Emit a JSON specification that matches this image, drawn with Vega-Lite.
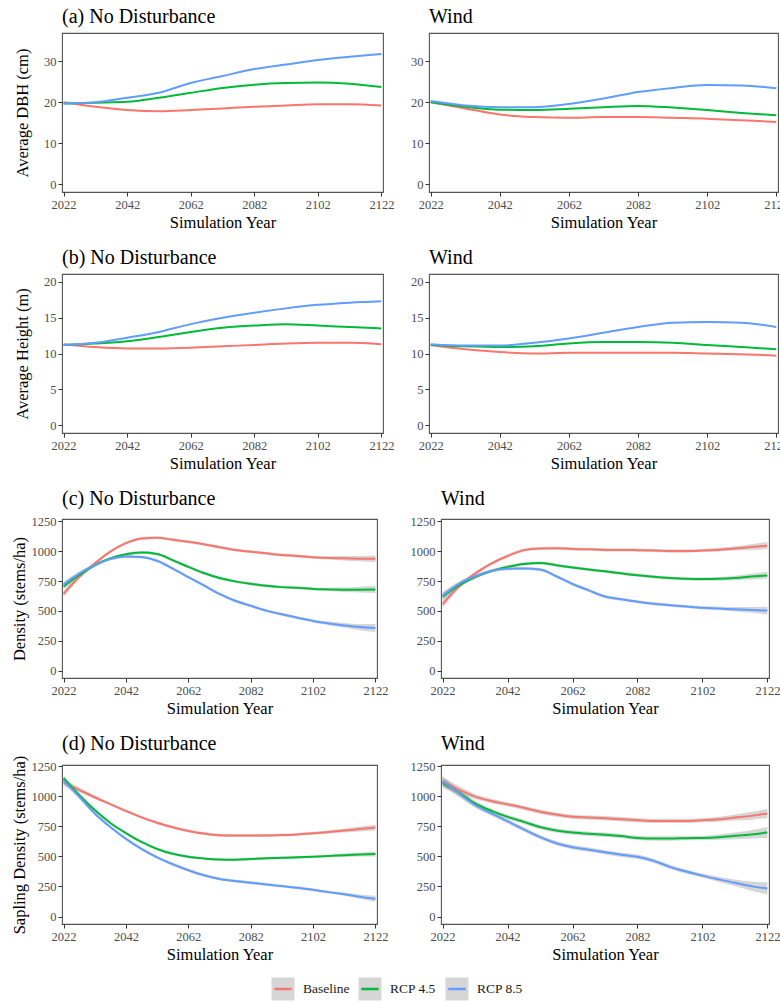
{
"$schema": "https://vega.github.io/schema/vega-lite/v6.json",
"padding": {"left": 10, "top": 6, "right": 0, "bottom": 0},
"background": "white",
"spacing": 13,
"datasets": {
"main": [
{"p":"a0","s":"Baseline","x":2022,"y":20.0},{"p":"a0","s":"Baseline","x":2032,"y":18.9},{"p":"a0","s":"Baseline","x":2042,"y":18.1},{"p":"a0","s":"Baseline","x":2052,"y":17.8},{"p":"a0","s":"Baseline","x":2062,"y":18.1},{"p":"a0","s":"Baseline","x":2072,"y":18.5},{"p":"a0","s":"Baseline","x":2082,"y":18.9},{"p":"a0","s":"Baseline","x":2092,"y":19.2},{"p":"a0","s":"Baseline","x":2102,"y":19.5},{"p":"a0","s":"Baseline","x":2112,"y":19.5},{"p":"a0","s":"Baseline","x":2122,"y":19.2},
{"p":"a0","s":"RCP 4.5","x":2022,"y":19.7},{"p":"a0","s":"RCP 4.5","x":2032,"y":19.9},{"p":"a0","s":"RCP 4.5","x":2042,"y":20.1},{"p":"a0","s":"RCP 4.5","x":2052,"y":21.1},{"p":"a0","s":"RCP 4.5","x":2062,"y":22.3},{"p":"a0","s":"RCP 4.5","x":2072,"y":23.5},{"p":"a0","s":"RCP 4.5","x":2082,"y":24.3},{"p":"a0","s":"RCP 4.5","x":2092,"y":24.7},{"p":"a0","s":"RCP 4.5","x":2102,"y":24.8},{"p":"a0","s":"RCP 4.5","x":2112,"y":24.5},{"p":"a0","s":"RCP 4.5","x":2122,"y":23.7},
{"p":"a0","s":"RCP 8.5","x":2022,"y":19.7},{"p":"a0","s":"RCP 8.5","x":2032,"y":20.0},{"p":"a0","s":"RCP 8.5","x":2042,"y":21.1},{"p":"a0","s":"RCP 8.5","x":2052,"y":22.3},{"p":"a0","s":"RCP 8.5","x":2062,"y":24.7},{"p":"a0","s":"RCP 8.5","x":2072,"y":26.4},{"p":"a0","s":"RCP 8.5","x":2082,"y":28.1},{"p":"a0","s":"RCP 8.5","x":2092,"y":29.2},{"p":"a0","s":"RCP 8.5","x":2102,"y":30.3},{"p":"a0","s":"RCP 8.5","x":2112,"y":31.1},{"p":"a0","s":"RCP 8.5","x":2122,"y":31.8},
{"p":"a1","s":"Baseline","x":2022,"y":20.0},{"p":"a1","s":"Baseline","x":2032,"y":18.5},{"p":"a1","s":"Baseline","x":2042,"y":17.0},{"p":"a1","s":"Baseline","x":2052,"y":16.4},{"p":"a1","s":"Baseline","x":2062,"y":16.2},{"p":"a1","s":"Baseline","x":2072,"y":16.4},{"p":"a1","s":"Baseline","x":2082,"y":16.4},{"p":"a1","s":"Baseline","x":2092,"y":16.2},{"p":"a1","s":"Baseline","x":2102,"y":16.0},{"p":"a1","s":"Baseline","x":2112,"y":15.6},{"p":"a1","s":"Baseline","x":2122,"y":15.2},
{"p":"a1","s":"RCP 4.5","x":2022,"y":20.0},{"p":"a1","s":"RCP 4.5","x":2032,"y":18.9},{"p":"a1","s":"RCP 4.5","x":2042,"y":18.2},{"p":"a1","s":"RCP 4.5","x":2052,"y":18.1},{"p":"a1","s":"RCP 4.5","x":2062,"y":18.4},{"p":"a1","s":"RCP 4.5","x":2072,"y":18.8},{"p":"a1","s":"RCP 4.5","x":2082,"y":19.1},{"p":"a1","s":"RCP 4.5","x":2092,"y":18.7},{"p":"a1","s":"RCP 4.5","x":2102,"y":18.1},{"p":"a1","s":"RCP 4.5","x":2112,"y":17.4},{"p":"a1","s":"RCP 4.5","x":2122,"y":16.8},
{"p":"a1","s":"RCP 8.5","x":2022,"y":20.3},{"p":"a1","s":"RCP 8.5","x":2032,"y":19.2},{"p":"a1","s":"RCP 8.5","x":2042,"y":18.8},{"p":"a1","s":"RCP 8.5","x":2052,"y":18.8},{"p":"a1","s":"RCP 8.5","x":2062,"y":19.6},{"p":"a1","s":"RCP 8.5","x":2072,"y":20.9},{"p":"a1","s":"RCP 8.5","x":2082,"y":22.5},{"p":"a1","s":"RCP 8.5","x":2092,"y":23.5},{"p":"a1","s":"RCP 8.5","x":2102,"y":24.2},{"p":"a1","s":"RCP 8.5","x":2112,"y":24.1},{"p":"a1","s":"RCP 8.5","x":2122,"y":23.4},
{"p":"b0","s":"Baseline","x":2022,"y":11.3},{"p":"b0","s":"Baseline","x":2032,"y":10.9},{"p":"b0","s":"Baseline","x":2042,"y":10.7},{"p":"b0","s":"Baseline","x":2052,"y":10.7},{"p":"b0","s":"Baseline","x":2062,"y":10.8},{"p":"b0","s":"Baseline","x":2072,"y":11.0},{"p":"b0","s":"Baseline","x":2082,"y":11.2},{"p":"b0","s":"Baseline","x":2092,"y":11.4},{"p":"b0","s":"Baseline","x":2102,"y":11.5},{"p":"b0","s":"Baseline","x":2112,"y":11.5},{"p":"b0","s":"Baseline","x":2122,"y":11.3},
{"p":"b0","s":"RCP 4.5","x":2022,"y":11.2},{"p":"b0","s":"RCP 4.5","x":2032,"y":11.4},{"p":"b0","s":"RCP 4.5","x":2042,"y":11.7},{"p":"b0","s":"RCP 4.5","x":2052,"y":12.3},{"p":"b0","s":"RCP 4.5","x":2062,"y":13.0},{"p":"b0","s":"RCP 4.5","x":2072,"y":13.6},{"p":"b0","s":"RCP 4.5","x":2082,"y":13.9},{"p":"b0","s":"RCP 4.5","x":2092,"y":14.1},{"p":"b0","s":"RCP 4.5","x":2102,"y":13.9},{"p":"b0","s":"RCP 4.5","x":2112,"y":13.7},{"p":"b0","s":"RCP 4.5","x":2122,"y":13.5},
{"p":"b0","s":"RCP 8.5","x":2022,"y":11.2},{"p":"b0","s":"RCP 8.5","x":2032,"y":11.5},{"p":"b0","s":"RCP 8.5","x":2042,"y":12.2},{"p":"b0","s":"RCP 8.5","x":2052,"y":13.0},{"p":"b0","s":"RCP 8.5","x":2062,"y":14.1},{"p":"b0","s":"RCP 8.5","x":2072,"y":15.0},{"p":"b0","s":"RCP 8.5","x":2082,"y":15.7},{"p":"b0","s":"RCP 8.5","x":2092,"y":16.3},{"p":"b0","s":"RCP 8.5","x":2102,"y":16.8},{"p":"b0","s":"RCP 8.5","x":2112,"y":17.1},{"p":"b0","s":"RCP 8.5","x":2122,"y":17.3},
{"p":"b1","s":"Baseline","x":2022,"y":11.2},{"p":"b1","s":"Baseline","x":2032,"y":10.6},{"p":"b1","s":"Baseline","x":2042,"y":10.2},{"p":"b1","s":"Baseline","x":2052,"y":10.0},{"p":"b1","s":"Baseline","x":2062,"y":10.1},{"p":"b1","s":"Baseline","x":2072,"y":10.1},{"p":"b1","s":"Baseline","x":2082,"y":10.1},{"p":"b1","s":"Baseline","x":2092,"y":10.1},{"p":"b1","s":"Baseline","x":2102,"y":10.0},{"p":"b1","s":"Baseline","x":2112,"y":9.9},{"p":"b1","s":"Baseline","x":2122,"y":9.7},
{"p":"b1","s":"RCP 4.5","x":2022,"y":11.2},{"p":"b1","s":"RCP 4.5","x":2032,"y":11.0},{"p":"b1","s":"RCP 4.5","x":2042,"y":10.9},{"p":"b1","s":"RCP 4.5","x":2052,"y":11.0},{"p":"b1","s":"RCP 4.5","x":2062,"y":11.4},{"p":"b1","s":"RCP 4.5","x":2072,"y":11.6},{"p":"b1","s":"RCP 4.5","x":2082,"y":11.6},{"p":"b1","s":"RCP 4.5","x":2092,"y":11.5},{"p":"b1","s":"RCP 4.5","x":2102,"y":11.2},{"p":"b1","s":"RCP 4.5","x":2112,"y":10.9},{"p":"b1","s":"RCP 4.5","x":2122,"y":10.6},
{"p":"b1","s":"RCP 8.5","x":2022,"y":11.3},{"p":"b1","s":"RCP 8.5","x":2032,"y":11.1},{"p":"b1","s":"RCP 8.5","x":2042,"y":11.1},{"p":"b1","s":"RCP 8.5","x":2052,"y":11.5},{"p":"b1","s":"RCP 8.5","x":2062,"y":12.1},{"p":"b1","s":"RCP 8.5","x":2072,"y":12.9},{"p":"b1","s":"RCP 8.5","x":2082,"y":13.7},{"p":"b1","s":"RCP 8.5","x":2092,"y":14.3},{"p":"b1","s":"RCP 8.5","x":2102,"y":14.4},{"p":"b1","s":"RCP 8.5","x":2112,"y":14.3},{"p":"b1","s":"RCP 8.5","x":2122,"y":13.7},
{"p":"c0","s":"Baseline","x":2022,"y":642,"lo":617,"hi":667},{"p":"c0","s":"Baseline","x":2027,"y":783,"lo":765,"hi":801},{"p":"c0","s":"Baseline","x":2032,"y":896,"lo":882,"hi":910},{"p":"c0","s":"Baseline","x":2037,"y":995,"lo":983,"hi":1007},{"p":"c0","s":"Baseline","x":2042,"y":1066,"lo":1054,"hi":1078},{"p":"c0","s":"Baseline","x":2047,"y":1105,"lo":1093,"hi":1117},{"p":"c0","s":"Baseline","x":2052,"y":1112,"lo":1100,"hi":1124},{"p":"c0","s":"Baseline","x":2057,"y":1095,"lo":1083,"hi":1107},{"p":"c0","s":"Baseline","x":2062,"y":1078,"lo":1066,"hi":1090},{"p":"c0","s":"Baseline","x":2067,"y":1058,"lo":1046,"hi":1070},{"p":"c0","s":"Baseline","x":2072,"y":1032,"lo":1020,"hi":1044},{"p":"c0","s":"Baseline","x":2077,"y":1010,"lo":998,"hi":1022},{"p":"c0","s":"Baseline","x":2082,"y":995,"lo":983,"hi":1007},{"p":"c0","s":"Baseline","x":2087,"y":981,"lo":969,"hi":993},{"p":"c0","s":"Baseline","x":2092,"y":967,"lo":955,"hi":979},{"p":"c0","s":"Baseline","x":2097,"y":959,"lo":947,"hi":971},{"p":"c0","s":"Baseline","x":2102,"y":948,"lo":936,"hi":960},{"p":"c0","s":"Baseline","x":2107,"y":943,"lo":929,"hi":957},{"p":"c0","s":"Baseline","x":2112,"y":940,"lo":922,"hi":958},{"p":"c0","s":"Baseline","x":2117,"y":937,"lo":915,"hi":959},{"p":"c0","s":"Baseline","x":2122,"y":935,"lo":907,"hi":963},
{"p":"c0","s":"RCP 4.5","x":2022,"y":704,"lo":679,"hi":729},{"p":"c0","s":"RCP 4.5","x":2027,"y":798,"lo":780,"hi":816},{"p":"c0","s":"RCP 4.5","x":2032,"y":882,"lo":868,"hi":896},{"p":"c0","s":"RCP 4.5","x":2037,"y":939,"lo":927,"hi":951},{"p":"c0","s":"RCP 4.5","x":2042,"y":973,"lo":961,"hi":985},{"p":"c0","s":"RCP 4.5","x":2047,"y":988,"lo":976,"hi":1000},{"p":"c0","s":"RCP 4.5","x":2052,"y":976,"lo":964,"hi":988},{"p":"c0","s":"RCP 4.5","x":2057,"y":925,"lo":913,"hi":937},{"p":"c0","s":"RCP 4.5","x":2062,"y":868,"lo":856,"hi":880},{"p":"c0","s":"RCP 4.5","x":2067,"y":817,"lo":805,"hi":829},{"p":"c0","s":"RCP 4.5","x":2072,"y":775,"lo":763,"hi":787},{"p":"c0","s":"RCP 4.5","x":2077,"y":747,"lo":735,"hi":759},{"p":"c0","s":"RCP 4.5","x":2082,"y":727,"lo":715,"hi":739},{"p":"c0","s":"RCP 4.5","x":2087,"y":710,"lo":698,"hi":722},{"p":"c0","s":"RCP 4.5","x":2092,"y":699,"lo":687,"hi":711},{"p":"c0","s":"RCP 4.5","x":2097,"y":693,"lo":681,"hi":705},{"p":"c0","s":"RCP 4.5","x":2102,"y":684,"lo":672,"hi":696},{"p":"c0","s":"RCP 4.5","x":2107,"y":680,"lo":666,"hi":694},{"p":"c0","s":"RCP 4.5","x":2112,"y":677,"lo":659,"hi":695},{"p":"c0","s":"RCP 4.5","x":2117,"y":678,"lo":654,"hi":702},{"p":"c0","s":"RCP 4.5","x":2122,"y":680,"lo":650,"hi":710},
{"p":"c0","s":"RCP 8.5","x":2022,"y":721,"lo":696,"hi":746},{"p":"c0","s":"RCP 8.5","x":2027,"y":812,"lo":794,"hi":830},{"p":"c0","s":"RCP 8.5","x":2032,"y":882,"lo":868,"hi":896},{"p":"c0","s":"RCP 8.5","x":2037,"y":933,"lo":921,"hi":945},{"p":"c0","s":"RCP 8.5","x":2042,"y":955,"lo":943,"hi":967},{"p":"c0","s":"RCP 8.5","x":2047,"y":950,"lo":938,"hi":962},{"p":"c0","s":"RCP 8.5","x":2052,"y":919,"lo":907,"hi":931},{"p":"c0","s":"RCP 8.5","x":2057,"y":854,"lo":842,"hi":866},{"p":"c0","s":"RCP 8.5","x":2062,"y":783,"lo":771,"hi":795},{"p":"c0","s":"RCP 8.5","x":2067,"y":713,"lo":701,"hi":725},{"p":"c0","s":"RCP 8.5","x":2072,"y":642,"lo":630,"hi":654},{"p":"c0","s":"RCP 8.5","x":2077,"y":585,"lo":573,"hi":597},{"p":"c0","s":"RCP 8.5","x":2082,"y":543,"lo":531,"hi":555},{"p":"c0","s":"RCP 8.5","x":2087,"y":503,"lo":491,"hi":515},{"p":"c0","s":"RCP 8.5","x":2092,"y":472,"lo":460,"hi":484},{"p":"c0","s":"RCP 8.5","x":2097,"y":444,"lo":432,"hi":456},{"p":"c0","s":"RCP 8.5","x":2102,"y":416,"lo":404,"hi":428},{"p":"c0","s":"RCP 8.5","x":2107,"y":396,"lo":381,"hi":411},{"p":"c0","s":"RCP 8.5","x":2112,"y":379,"lo":359,"hi":399},{"p":"c0","s":"RCP 8.5","x":2117,"y":365,"lo":339,"hi":391},{"p":"c0","s":"RCP 8.5","x":2122,"y":358,"lo":324,"hi":392},
{"p":"c1","s":"Baseline","x":2022,"y":557,"lo":527,"hi":587},{"p":"c1","s":"Baseline","x":2027,"y":704,"lo":684,"hi":724},{"p":"c1","s":"Baseline","x":2032,"y":812,"lo":797,"hi":827},{"p":"c1","s":"Baseline","x":2037,"y":896,"lo":883,"hi":909},{"p":"c1","s":"Baseline","x":2042,"y":959,"lo":946,"hi":972},{"p":"c1","s":"Baseline","x":2047,"y":1008,"lo":995,"hi":1021},{"p":"c1","s":"Baseline","x":2052,"y":1022,"lo":1009,"hi":1035},{"p":"c1","s":"Baseline","x":2057,"y":1024,"lo":1011,"hi":1037},{"p":"c1","s":"Baseline","x":2062,"y":1018,"lo":1005,"hi":1031},{"p":"c1","s":"Baseline","x":2067,"y":1015,"lo":1002,"hi":1028},{"p":"c1","s":"Baseline","x":2072,"y":1010,"lo":997,"hi":1023},{"p":"c1","s":"Baseline","x":2077,"y":1010,"lo":997,"hi":1023},{"p":"c1","s":"Baseline","x":2082,"y":1008,"lo":995,"hi":1021},{"p":"c1","s":"Baseline","x":2087,"y":1005,"lo":992,"hi":1018},{"p":"c1","s":"Baseline","x":2092,"y":1000,"lo":987,"hi":1013},{"p":"c1","s":"Baseline","x":2097,"y":1000,"lo":987,"hi":1013},{"p":"c1","s":"Baseline","x":2102,"y":1005,"lo":992,"hi":1018},{"p":"c1","s":"Baseline","x":2107,"y":1012,"lo":997,"hi":1027},{"p":"c1","s":"Baseline","x":2112,"y":1022,"lo":1004,"hi":1040},{"p":"c1","s":"Baseline","x":2117,"y":1034,"lo":1010,"hi":1058},{"p":"c1","s":"Baseline","x":2122,"y":1045,"lo":1015,"hi":1075},
{"p":"c1","s":"RCP 4.5","x":2022,"y":619,"lo":589,"hi":649},{"p":"c1","s":"RCP 4.5","x":2027,"y":713,"lo":693,"hi":733},{"p":"c1","s":"RCP 4.5","x":2032,"y":783,"lo":768,"hi":798},{"p":"c1","s":"RCP 4.5","x":2037,"y":834,"lo":821,"hi":847},{"p":"c1","s":"RCP 4.5","x":2042,"y":868,"lo":855,"hi":881},{"p":"c1","s":"RCP 4.5","x":2047,"y":893,"lo":880,"hi":906},{"p":"c1","s":"RCP 4.5","x":2052,"y":900,"lo":887,"hi":913},{"p":"c1","s":"RCP 4.5","x":2057,"y":882,"lo":869,"hi":895},{"p":"c1","s":"RCP 4.5","x":2062,"y":863,"lo":850,"hi":876},{"p":"c1","s":"RCP 4.5","x":2067,"y":846,"lo":833,"hi":859},{"p":"c1","s":"RCP 4.5","x":2072,"y":831,"lo":818,"hi":844},{"p":"c1","s":"RCP 4.5","x":2077,"y":814,"lo":801,"hi":827},{"p":"c1","s":"RCP 4.5","x":2082,"y":798,"lo":785,"hi":811},{"p":"c1","s":"RCP 4.5","x":2087,"y":785,"lo":772,"hi":798},{"p":"c1","s":"RCP 4.5","x":2092,"y":775,"lo":762,"hi":788},{"p":"c1","s":"RCP 4.5","x":2097,"y":768,"lo":755,"hi":781},{"p":"c1","s":"RCP 4.5","x":2102,"y":766,"lo":753,"hi":779},{"p":"c1","s":"RCP 4.5","x":2107,"y":768,"lo":753,"hi":783},{"p":"c1","s":"RCP 4.5","x":2112,"y":775,"lo":757,"hi":793},{"p":"c1","s":"RCP 4.5","x":2117,"y":787,"lo":763,"hi":811},{"p":"c1","s":"RCP 4.5","x":2122,"y":797,"lo":769,"hi":825},
{"p":"c1","s":"RCP 8.5","x":2022,"y":628,"lo":598,"hi":658},{"p":"c1","s":"RCP 8.5","x":2027,"y":727,"lo":707,"hi":747},{"p":"c1","s":"RCP 8.5","x":2032,"y":789,"lo":774,"hi":804},{"p":"c1","s":"RCP 8.5","x":2037,"y":834,"lo":821,"hi":847},{"p":"c1","s":"RCP 8.5","x":2042,"y":852,"lo":839,"hi":865},{"p":"c1","s":"RCP 8.5","x":2047,"y":854,"lo":841,"hi":867},{"p":"c1","s":"RCP 8.5","x":2052,"y":846,"lo":833,"hi":859},{"p":"c1","s":"RCP 8.5","x":2057,"y":790,"lo":777,"hi":803},{"p":"c1","s":"RCP 8.5","x":2062,"y":725,"lo":712,"hi":738},{"p":"c1","s":"RCP 8.5","x":2067,"y":672,"lo":659,"hi":685},{"p":"c1","s":"RCP 8.5","x":2072,"y":620,"lo":607,"hi":633},{"p":"c1","s":"RCP 8.5","x":2077,"y":598,"lo":585,"hi":611},{"p":"c1","s":"RCP 8.5","x":2082,"y":577,"lo":564,"hi":590},{"p":"c1","s":"RCP 8.5","x":2087,"y":560,"lo":547,"hi":573},{"p":"c1","s":"RCP 8.5","x":2092,"y":548,"lo":535,"hi":561},{"p":"c1","s":"RCP 8.5","x":2097,"y":537,"lo":524,"hi":550},{"p":"c1","s":"RCP 8.5","x":2102,"y":526,"lo":513,"hi":539},{"p":"c1","s":"RCP 8.5","x":2107,"y":520,"lo":505,"hi":535},{"p":"c1","s":"RCP 8.5","x":2112,"y":514,"lo":496,"hi":532},{"p":"c1","s":"RCP 8.5","x":2117,"y":508,"lo":484,"hi":532},{"p":"c1","s":"RCP 8.5","x":2122,"y":503,"lo":471,"hi":535},
{"p":"d0","s":"Baseline","x":2022,"y":1115,"lo":1085,"hi":1145},{"p":"d0","s":"Baseline","x":2027,"y":1053,"lo":1033,"hi":1073},{"p":"d0","s":"Baseline","x":2032,"y":992,"lo":977,"hi":1007},{"p":"d0","s":"Baseline","x":2037,"y":935,"lo":923,"hi":947},{"p":"d0","s":"Baseline","x":2042,"y":878,"lo":866,"hi":890},{"p":"d0","s":"Baseline","x":2047,"y":825,"lo":813,"hi":837},{"p":"d0","s":"Baseline","x":2052,"y":780,"lo":768,"hi":792},{"p":"d0","s":"Baseline","x":2057,"y":742,"lo":730,"hi":754},{"p":"d0","s":"Baseline","x":2062,"y":712,"lo":700,"hi":724},{"p":"d0","s":"Baseline","x":2067,"y":690,"lo":678,"hi":702},{"p":"d0","s":"Baseline","x":2072,"y":676,"lo":664,"hi":688},{"p":"d0","s":"Baseline","x":2077,"y":673,"lo":661,"hi":685},{"p":"d0","s":"Baseline","x":2082,"y":673,"lo":661,"hi":685},{"p":"d0","s":"Baseline","x":2087,"y":674,"lo":662,"hi":686},{"p":"d0","s":"Baseline","x":2092,"y":677,"lo":665,"hi":689},{"p":"d0","s":"Baseline","x":2097,"y":683,"lo":671,"hi":695},{"p":"d0","s":"Baseline","x":2102,"y":692,"lo":680,"hi":704},{"p":"d0","s":"Baseline","x":2107,"y":702,"lo":688,"hi":716},{"p":"d0","s":"Baseline","x":2112,"y":715,"lo":698,"hi":732},{"p":"d0","s":"Baseline","x":2117,"y":728,"lo":708,"hi":748},{"p":"d0","s":"Baseline","x":2122,"y":740,"lo":716,"hi":764},
{"p":"d0","s":"RCP 4.5","x":2022,"y":1150,"lo":1125,"hi":1175},{"p":"d0","s":"RCP 4.5","x":2027,"y":1011,"lo":993,"hi":1029},{"p":"d0","s":"RCP 4.5","x":2032,"y":885,"lo":871,"hi":899},{"p":"d0","s":"RCP 4.5","x":2037,"y":778,"lo":767,"hi":789},{"p":"d0","s":"RCP 4.5","x":2042,"y":694,"lo":683,"hi":705},{"p":"d0","s":"RCP 4.5","x":2047,"y":620,"lo":609,"hi":631},{"p":"d0","s":"RCP 4.5","x":2052,"y":562,"lo":551,"hi":573},{"p":"d0","s":"RCP 4.5","x":2057,"y":522,"lo":511,"hi":533},{"p":"d0","s":"RCP 4.5","x":2062,"y":497,"lo":486,"hi":508},{"p":"d0","s":"RCP 4.5","x":2067,"y":483,"lo":472,"hi":494},{"p":"d0","s":"RCP 4.5","x":2072,"y":474,"lo":463,"hi":485},{"p":"d0","s":"RCP 4.5","x":2077,"y":472,"lo":461,"hi":483},{"p":"d0","s":"RCP 4.5","x":2082,"y":478,"lo":467,"hi":489},{"p":"d0","s":"RCP 4.5","x":2087,"y":484,"lo":473,"hi":495},{"p":"d0","s":"RCP 4.5","x":2092,"y":488,"lo":477,"hi":499},{"p":"d0","s":"RCP 4.5","x":2097,"y":492,"lo":481,"hi":503},{"p":"d0","s":"RCP 4.5","x":2102,"y":497,"lo":486,"hi":508},{"p":"d0","s":"RCP 4.5","x":2107,"y":503,"lo":492,"hi":514},{"p":"d0","s":"RCP 4.5","x":2112,"y":510,"lo":496,"hi":524},{"p":"d0","s":"RCP 4.5","x":2117,"y":516,"lo":499,"hi":533},{"p":"d0","s":"RCP 4.5","x":2122,"y":520,"lo":500,"hi":540},
{"p":"d0","s":"RCP 8.5","x":2022,"y":1130,"lo":1105,"hi":1155},{"p":"d0","s":"RCP 8.5","x":2027,"y":997,"lo":979,"hi":1015},{"p":"d0","s":"RCP 8.5","x":2032,"y":857,"lo":843,"hi":871},{"p":"d0","s":"RCP 8.5","x":2037,"y":744,"lo":732,"hi":756},{"p":"d0","s":"RCP 8.5","x":2042,"y":646,"lo":634,"hi":658},{"p":"d0","s":"RCP 8.5","x":2047,"y":562,"lo":550,"hi":574},{"p":"d0","s":"RCP 8.5","x":2052,"y":492,"lo":480,"hi":504},{"p":"d0","s":"RCP 8.5","x":2057,"y":435,"lo":423,"hi":447},{"p":"d0","s":"RCP 8.5","x":2062,"y":385,"lo":373,"hi":397},{"p":"d0","s":"RCP 8.5","x":2067,"y":343,"lo":331,"hi":355},{"p":"d0","s":"RCP 8.5","x":2072,"y":313,"lo":301,"hi":325},{"p":"d0","s":"RCP 8.5","x":2077,"y":295,"lo":283,"hi":307},{"p":"d0","s":"RCP 8.5","x":2082,"y":281,"lo":269,"hi":293},{"p":"d0","s":"RCP 8.5","x":2087,"y":267,"lo":255,"hi":279},{"p":"d0","s":"RCP 8.5","x":2092,"y":253,"lo":241,"hi":265},{"p":"d0","s":"RCP 8.5","x":2097,"y":239,"lo":227,"hi":251},{"p":"d0","s":"RCP 8.5","x":2102,"y":222,"lo":210,"hi":234},{"p":"d0","s":"RCP 8.5","x":2107,"y":203,"lo":191,"hi":215},{"p":"d0","s":"RCP 8.5","x":2112,"y":186,"lo":172,"hi":200},{"p":"d0","s":"RCP 8.5","x":2117,"y":165,"lo":147,"hi":183},{"p":"d0","s":"RCP 8.5","x":2122,"y":148,"lo":124,"hi":172},
{"p":"d1","s":"Baseline","x":2022,"y":1124,"lo":1084,"hi":1164},{"p":"d1","s":"Baseline","x":2027,"y":1055,"lo":1025,"hi":1085},{"p":"d1","s":"Baseline","x":2032,"y":997,"lo":975,"hi":1019},{"p":"d1","s":"Baseline","x":2037,"y":961,"lo":943,"hi":979},{"p":"d1","s":"Baseline","x":2042,"y":933,"lo":915,"hi":951},{"p":"d1","s":"Baseline","x":2047,"y":904,"lo":886,"hi":922},{"p":"d1","s":"Baseline","x":2052,"y":871,"lo":853,"hi":889},{"p":"d1","s":"Baseline","x":2057,"y":848,"lo":830,"hi":866},{"p":"d1","s":"Baseline","x":2062,"y":829,"lo":811,"hi":847},{"p":"d1","s":"Baseline","x":2067,"y":823,"lo":805,"hi":841},{"p":"d1","s":"Baseline","x":2072,"y":817,"lo":799,"hi":835},{"p":"d1","s":"Baseline","x":2077,"y":809,"lo":791,"hi":827},{"p":"d1","s":"Baseline","x":2082,"y":801,"lo":783,"hi":819},{"p":"d1","s":"Baseline","x":2087,"y":795,"lo":777,"hi":813},{"p":"d1","s":"Baseline","x":2092,"y":795,"lo":777,"hi":813},{"p":"d1","s":"Baseline","x":2097,"y":795,"lo":777,"hi":813},{"p":"d1","s":"Baseline","x":2102,"y":801,"lo":783,"hi":819},{"p":"d1","s":"Baseline","x":2107,"y":809,"lo":789,"hi":829},{"p":"d1","s":"Baseline","x":2112,"y":823,"lo":798,"hi":848},{"p":"d1","s":"Baseline","x":2117,"y":837,"lo":805,"hi":869},{"p":"d1","s":"Baseline","x":2122,"y":857,"lo":817,"hi":897},
{"p":"d1","s":"RCP 4.5","x":2022,"y":1110,"lo":1072,"hi":1148},{"p":"d1","s":"RCP 4.5","x":2027,"y":1031,"lo":1003,"hi":1059},{"p":"d1","s":"RCP 4.5","x":2032,"y":941,"lo":919,"hi":963},{"p":"d1","s":"RCP 4.5","x":2037,"y":879,"lo":861,"hi":897},{"p":"d1","s":"RCP 4.5","x":2042,"y":829,"lo":811,"hi":847},{"p":"d1","s":"RCP 4.5","x":2047,"y":787,"lo":769,"hi":805},{"p":"d1","s":"RCP 4.5","x":2052,"y":744,"lo":726,"hi":762},{"p":"d1","s":"RCP 4.5","x":2057,"y":716,"lo":698,"hi":734},{"p":"d1","s":"RCP 4.5","x":2062,"y":699,"lo":681,"hi":717},{"p":"d1","s":"RCP 4.5","x":2067,"y":688,"lo":670,"hi":706},{"p":"d1","s":"RCP 4.5","x":2072,"y":680,"lo":662,"hi":698},{"p":"d1","s":"RCP 4.5","x":2077,"y":669,"lo":651,"hi":687},{"p":"d1","s":"RCP 4.5","x":2082,"y":654,"lo":636,"hi":672},{"p":"d1","s":"RCP 4.5","x":2087,"y":649,"lo":631,"hi":667},{"p":"d1","s":"RCP 4.5","x":2092,"y":649,"lo":631,"hi":667},{"p":"d1","s":"RCP 4.5","x":2097,"y":652,"lo":634,"hi":670},{"p":"d1","s":"RCP 4.5","x":2102,"y":654,"lo":636,"hi":672},{"p":"d1","s":"RCP 4.5","x":2107,"y":660,"lo":638,"hi":682},{"p":"d1","s":"RCP 4.5","x":2112,"y":671,"lo":643,"hi":699},{"p":"d1","s":"RCP 4.5","x":2117,"y":683,"lo":648,"hi":718},{"p":"d1","s":"RCP 4.5","x":2122,"y":699,"lo":654,"hi":744},
{"p":"d1","s":"RCP 8.5","x":2022,"y":1124,"lo":1086,"hi":1162},{"p":"d1","s":"RCP 8.5","x":2027,"y":1025,"lo":997,"hi":1053},{"p":"d1","s":"RCP 8.5","x":2032,"y":927,"lo":905,"hi":949},{"p":"d1","s":"RCP 8.5","x":2037,"y":857,"lo":839,"hi":875},{"p":"d1","s":"RCP 8.5","x":2042,"y":792,"lo":774,"hi":810},{"p":"d1","s":"RCP 8.5","x":2047,"y":725,"lo":707,"hi":743},{"p":"d1","s":"RCP 8.5","x":2052,"y":660,"lo":642,"hi":678},{"p":"d1","s":"RCP 8.5","x":2057,"y":610,"lo":592,"hi":628},{"p":"d1","s":"RCP 8.5","x":2062,"y":576,"lo":558,"hi":594},{"p":"d1","s":"RCP 8.5","x":2067,"y":556,"lo":538,"hi":574},{"p":"d1","s":"RCP 8.5","x":2072,"y":534,"lo":516,"hi":552},{"p":"d1","s":"RCP 8.5","x":2077,"y":514,"lo":496,"hi":532},{"p":"d1","s":"RCP 8.5","x":2082,"y":497,"lo":479,"hi":515},{"p":"d1","s":"RCP 8.5","x":2087,"y":463,"lo":445,"hi":481},{"p":"d1","s":"RCP 8.5","x":2092,"y":413,"lo":395,"hi":431},{"p":"d1","s":"RCP 8.5","x":2097,"y":374,"lo":356,"hi":392},{"p":"d1","s":"RCP 8.5","x":2102,"y":340,"lo":322,"hi":358},{"p":"d1","s":"RCP 8.5","x":2107,"y":309,"lo":287,"hi":331},{"p":"d1","s":"RCP 8.5","x":2112,"y":281,"lo":253,"hi":309},{"p":"d1","s":"RCP 8.5","x":2117,"y":253,"lo":215,"hi":291},{"p":"d1","s":"RCP 8.5","x":2122,"y":233,"lo":183,"hi":283}
],
"legend": [{"s":"Baseline","i":0},{"s":"RCP 4.5","i":1},{"s":"RCP 8.5","i":2}]
},
"vconcat": [
{"columns": 2, "align": {"row": "each", "column": "none"}, "spacing": {"row": 15, "column": 14}, "concat": [
 {"width": 321, "height": 159, "title": "(a) No Disturbance", "data": {"name": "main"}, "transform": [{"filter": "datum.p === 'a0'"}],
  "mark": {"type": "line", "interpolate": "monotone", "strokeWidth": 2},
  "encoding": {
   "x": {"field": "x", "type": "quantitative", "scale": {"domain": [2021.5, 2122.5], "nice": false, "zero": false}, "axis": {"values": [2022, 2042, 2062, 2082, 2102, 2122], "format": "d", "title": "Simulation Year"}},
   "y": {"field": "y", "type": "quantitative", "scale": {"domain": [-1.9, 36.9], "nice": false, "zero": false}, "axis": {"values": [0, 10, 20, 30], "format": "d", "title": "Average DBH (cm)", "titlePadding": 13}},
   "color": {"field": "s", "type": "nominal", "scale": {"domain": ["Baseline", "RCP 4.5", "RCP 8.5"], "range": ["#F8766D", "#00BA38", "#619CFF"]}, "legend": null}}},
 {"width": 349, "height": 159, "title": "Wind", "data": {"name": "main"}, "transform": [{"filter": "datum.p === 'a1'"}],
  "mark": {"type": "line", "interpolate": "monotone", "strokeWidth": 2},
  "encoding": {
   "x": {"field": "x", "type": "quantitative", "scale": {"domain": [2021.5, 2122.5], "nice": false, "zero": false}, "axis": {"values": [2022, 2042, 2062, 2082, 2102, 2122], "format": "d", "title": "Simulation Year"}},
   "y": {"field": "y", "type": "quantitative", "scale": {"domain": [-1.9, 36.9], "nice": false, "zero": false}, "axis": {"values": [0, 10, 20, 30], "format": "d", "title": null}},
   "color": {"field": "s", "type": "nominal", "scale": {"domain": ["Baseline", "RCP 4.5", "RCP 8.5"], "range": ["#F8766D", "#00BA38", "#619CFF"]}, "legend": null}}},
 {"width": 321, "height": 159, "title": "(b) No Disturbance", "data": {"name": "main"}, "transform": [{"filter": "datum.p === 'b0'"}],
  "mark": {"type": "line", "interpolate": "monotone", "strokeWidth": 2},
  "encoding": {
   "x": {"field": "x", "type": "quantitative", "scale": {"domain": [2021.5, 2122.5], "nice": false, "zero": false}, "axis": {"values": [2022, 2042, 2062, 2082, 2102, 2122], "format": "d", "title": "Simulation Year"}},
   "y": {"field": "y", "type": "quantitative", "scale": {"domain": [-1.1, 21.1], "nice": false, "zero": false}, "axis": {"values": [0, 5, 10, 15, 20], "format": "d", "title": "Average Height (m)", "titlePadding": 13}},
   "color": {"field": "s", "type": "nominal", "scale": {"domain": ["Baseline", "RCP 4.5", "RCP 8.5"], "range": ["#F8766D", "#00BA38", "#619CFF"]}, "legend": null}}},
 {"width": 349, "height": 159, "title": "Wind", "data": {"name": "main"}, "transform": [{"filter": "datum.p === 'b1'"}],
  "mark": {"type": "line", "interpolate": "monotone", "strokeWidth": 2},
  "encoding": {
   "x": {"field": "x", "type": "quantitative", "scale": {"domain": [2021.5, 2122.5], "nice": false, "zero": false}, "axis": {"values": [2022, 2042, 2062, 2082, 2102, 2122], "format": "d", "title": "Simulation Year"}},
   "y": {"field": "y", "type": "quantitative", "scale": {"domain": [-1.1, 21.1], "nice": false, "zero": false}, "axis": {"values": [0, 5, 10, 15, 20], "format": "d", "title": null}},
   "color": {"field": "s", "type": "nominal", "scale": {"domain": ["Baseline", "RCP 4.5", "RCP 8.5"], "range": ["#F8766D", "#00BA38", "#619CFF"]}, "legend": null}}},
 {"width": 315, "height": 159, "title": "(c) No Disturbance", "data": {"name": "main"}, "transform": [{"filter": "datum.p === 'c0'"}],
  "layer": [
   {"mark": {"type": "area", "interpolate": "monotone", "color": "#999999", "opacity": 0.4},
    "encoding": {
     "x": {"field": "x", "type": "quantitative", "scale": {"domain": [2021.5, 2122.5], "nice": false, "zero": false}, "axis": {"values": [2022, 2042, 2062, 2082, 2102, 2122], "format": "d", "title": "Simulation Year"}},
     "y": {"field": "lo", "type": "quantitative", "scale": {"domain": [-60, 1268], "nice": false, "zero": false}, "axis": {"values": [0, 250, 500, 750, 1000, 1250], "format": "d", "title": "Density (stems/ha)"}},
     "y2": {"field": "hi"}, "detail": {"field": "s", "type": "nominal"}}},
   {"mark": {"type": "line", "interpolate": "monotone", "strokeWidth": 2},
    "encoding": {
     "x": {"field": "x", "type": "quantitative", "scale": {"domain": [2021.5, 2122.5], "nice": false, "zero": false}, "axis": {"values": [2022, 2042, 2062, 2082, 2102, 2122], "format": "d", "title": "Simulation Year"}},
     "y": {"field": "y", "type": "quantitative", "scale": {"domain": [-60, 1268], "nice": false, "zero": false}, "axis": {"values": [0, 250, 500, 750, 1000, 1250], "format": "d", "title": "Density (stems/ha)"}},
     "color": {"field": "s", "type": "nominal", "scale": {"domain": ["Baseline", "RCP 4.5", "RCP 8.5"], "range": ["#F8766D", "#00BA38", "#619CFF"]}, "legend": null}}}
  ]},
 {"width": 328, "height": 159, "title": "Wind", "data": {"name": "main"}, "transform": [{"filter": "datum.p === 'c1'"}],
  "layer": [
   {"mark": {"type": "area", "interpolate": "monotone", "color": "#999999", "opacity": 0.4},
    "encoding": {
     "x": {"field": "x", "type": "quantitative", "scale": {"domain": [2021.5, 2122.5], "nice": false, "zero": false}, "axis": {"values": [2022, 2042, 2062, 2082, 2102, 2122], "format": "d", "title": "Simulation Year"}},
     "y": {"field": "lo", "type": "quantitative", "scale": {"domain": [-60, 1268], "nice": false, "zero": false}, "axis": {"values": [0, 250, 500, 750, 1000, 1250], "format": "d", "title": null}},
     "y2": {"field": "hi"}, "detail": {"field": "s", "type": "nominal"}}},
   {"mark": {"type": "line", "interpolate": "monotone", "strokeWidth": 2},
    "encoding": {
     "x": {"field": "x", "type": "quantitative", "scale": {"domain": [2021.5, 2122.5], "nice": false, "zero": false}, "axis": {"values": [2022, 2042, 2062, 2082, 2102, 2122], "format": "d", "title": "Simulation Year"}},
     "y": {"field": "y", "type": "quantitative", "scale": {"domain": [-60, 1268], "nice": false, "zero": false}, "axis": {"values": [0, 250, 500, 750, 1000, 1250], "format": "d", "title": null}},
     "color": {"field": "s", "type": "nominal", "scale": {"domain": ["Baseline", "RCP 4.5", "RCP 8.5"], "range": ["#F8766D", "#00BA38", "#619CFF"]}, "legend": null}}}
  ]},
 {"width": 315, "height": 159, "title": {"text": "(d) No Disturbance", "offset": 1}, "data": {"name": "main"}, "transform": [{"filter": "datum.p === 'd0'"}],
  "layer": [
   {"mark": {"type": "area", "interpolate": "monotone", "color": "#999999", "opacity": 0.4},
    "encoding": {
     "x": {"field": "x", "type": "quantitative", "scale": {"domain": [2021.5, 2122.5], "nice": false, "zero": false}, "axis": {"values": [2022, 2042, 2062, 2082, 2102, 2122], "format": "d", "title": "Simulation Year"}},
     "y": {"field": "lo", "type": "quantitative", "scale": {"domain": [-62, 1260], "nice": false, "zero": false}, "axis": {"values": [0, 250, 500, 750, 1000, 1250], "format": "d", "title": "Sapling Density (stems/ha)"}},
     "y2": {"field": "hi"}, "detail": {"field": "s", "type": "nominal"}}},
   {"mark": {"type": "line", "interpolate": "monotone", "strokeWidth": 2},
    "encoding": {
     "x": {"field": "x", "type": "quantitative", "scale": {"domain": [2021.5, 2122.5], "nice": false, "zero": false}, "axis": {"values": [2022, 2042, 2062, 2082, 2102, 2122], "format": "d", "title": "Simulation Year"}},
     "y": {"field": "y", "type": "quantitative", "scale": {"domain": [-62, 1260], "nice": false, "zero": false}, "axis": {"values": [0, 250, 500, 750, 1000, 1250], "format": "d", "title": "Sapling Density (stems/ha)"}},
     "color": {"field": "s", "type": "nominal", "scale": {"domain": ["Baseline", "RCP 4.5", "RCP 8.5"], "range": ["#F8766D", "#00BA38", "#619CFF"]}, "legend": null}}}
  ]},
 {"width": 328, "height": 159, "title": "Wind", "data": {"name": "main"}, "transform": [{"filter": "datum.p === 'd1'"}],
  "layer": [
   {"mark": {"type": "area", "interpolate": "monotone", "color": "#999999", "opacity": 0.4},
    "encoding": {
     "x": {"field": "x", "type": "quantitative", "scale": {"domain": [2021.5, 2122.5], "nice": false, "zero": false}, "axis": {"values": [2022, 2042, 2062, 2082, 2102, 2122], "format": "d", "title": "Simulation Year"}},
     "y": {"field": "lo", "type": "quantitative", "scale": {"domain": [-62, 1260], "nice": false, "zero": false}, "axis": {"values": [0, 250, 500, 750, 1000, 1250], "format": "d", "title": null}},
     "y2": {"field": "hi"}, "detail": {"field": "s", "type": "nominal"}}},
   {"mark": {"type": "line", "interpolate": "monotone", "strokeWidth": 2},
    "encoding": {
     "x": {"field": "x", "type": "quantitative", "scale": {"domain": [2021.5, 2122.5], "nice": false, "zero": false}, "axis": {"values": [2022, 2042, 2062, 2082, 2102, 2122], "format": "d", "title": "Simulation Year"}},
     "y": {"field": "y", "type": "quantitative", "scale": {"domain": [-62, 1260], "nice": false, "zero": false}, "axis": {"values": [0, 250, 500, 750, 1000, 1250], "format": "d", "title": null}},
     "color": {"field": "s", "type": "nominal", "scale": {"domain": ["Baseline", "RCP 4.5", "RCP 8.5"], "range": ["#F8766D", "#00BA38", "#619CFF"]}, "legend": null}}}
  ]}
]},
{"width": 482, "height": 24, "view": {"stroke": null}, "data": {"name": "legend"},
 "encoding": {"x": {"field": "i", "type": "quantitative", "scale": {"domain": [-2.54, 3.0], "nice": false, "zero": false}, "axis": null}},
 "layer": [
  {"mark": {"type": "point", "shape": "square", "size": 529, "filled": true, "color": "#d6d6d6", "opacity": 1}},
  {"mark": {"type": "point", "shape": "stroke", "size": 300, "strokeWidth": 2.5, "filled": false, "opacity": 1},
   "encoding": {"color": {"field": "s", "type": "nominal", "scale": {"domain": ["Baseline", "RCP 4.5", "RCP 8.5"], "range": ["#F8766D", "#00BA38", "#619CFF"]}, "legend": null}}},
  {"mark": {"type": "text", "align": "left", "baseline": "middle", "dx": 20, "font": "Liberation Serif", "fontSize": 13.5, "color": "#1a1a1a"},
   "encoding": {"text": {"field": "s", "type": "nominal"}}}
 ]}
],
"config": {
 "view": {"stroke": "#555555", "strokeWidth": 1.1},
 "title": {"font": "Liberation Serif", "fontSize": 20, "fontWeight": "normal", "anchor": "start", "frame": "group", "offset": 6, "color": "#000000"},
 "axis": {"labelFont": "Liberation Serif", "labelFontSize": 12.5, "labelColor": "#4d4d4d", "titleFont": "Liberation Serif", "titleFontSize": 16.5, "titleFontWeight": "normal", "titleColor": "#000000", "grid": false, "domain": false, "tickColor": "#333333", "tickSize": 4, "labelPadding": 2, "titlePadding": 4, "labelFlush": false, "labelOverlap": false}
}
}
